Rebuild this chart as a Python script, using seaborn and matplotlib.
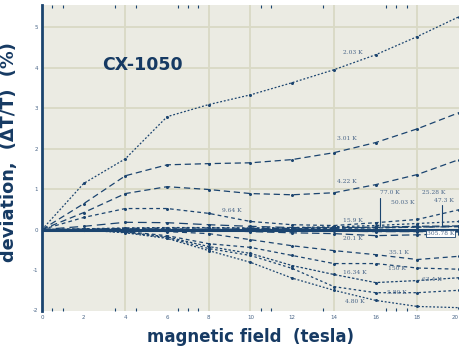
import matplotlib
matplotlib.use("Agg")
import matplotlib.pyplot as plt
import seaborn as sns
import numpy as np

# ---------------- data ----------------
field = [0, 2, 4, 6, 8, 10, 12, 14, 16, 18, 20]

curves = {
    "2.03 K":   [0, 1.14, 1.75, 2.79, 3.09, 3.33, 3.63, 3.95, 4.32, 4.77, 5.26],
    "3.01 K":   [0, 0.64, 1.33, 1.60, 1.63, 1.65, 1.73, 1.90, 2.15, 2.49, 2.89],
    "4.22 K":   [0, 0.42, 0.89, 1.06, 0.99, 0.89, 0.86, 0.91, 1.11, 1.36, 1.73],
    "9.64 K":   [0, 0.30, 0.52, 0.52, 0.40, 0.20, 0.12, 0.10, 0.17, 0.25, 0.49],
    "15.9 K":   [0, 0.08, 0.18, 0.17, 0.12, 0.08, 0.05, 0.05, 0.05, 0.06, 0.07],
    "25.28 K":  [0, 0.02, 0.04, 0.05, 0.05, 0.04, 0.05, 0.07, 0.10, 0.15, 0.20],
    "77.0 K":   [0, 0.01, 0.03, 0.04, 0.04, 0.03, 0.03, 0.05, 0.06, 0.08, 0.09],
    "50.03 K":  [0, 0.01, 0.02, 0.02, 0.01, 0.01, 0.02, 0.03, 0.04, 0.06, 0.08],
    "305.78 K": [0, 0.00, 0.00, -0.01, -0.02, -0.03, -0.03, -0.04, -0.05, -0.05, -0.06],
    "20.1 K":   [0, 0.00, 0.00, -0.01, -0.02, -0.05, -0.08, -0.10, -0.15, -0.13, -0.10],
    "35.1 K":   [0, 0.00, -0.02, -0.05, -0.10, -0.25, -0.40, -0.52, -0.62, -0.74, -0.66],
    "150 K":    [0, -0.01, -0.05, -0.15, -0.35, -0.44, -0.64, -0.84, -0.84, -0.95, -0.98],
    "63.4 K":   [0, -0.01, -0.06, -0.18, -0.42, -0.59, -0.89, -1.11, -1.31, -1.26, -1.19],
    "5.80 K":   [0, -0.01, -0.07, -0.20, -0.47, -0.64, -0.96, -1.41, -1.56, -1.56, -1.50],
    "4.80 K":   [0, -0.01, -0.08, -0.22, -0.52, -0.81, -1.20, -1.50, -1.75, -1.90, -1.93],
}

# curve labels: (text, x, y)
label_text = ["2.03 K", "3.01 K", "4.22 K", "9.64 K", "15.9 K", "77.0 K", "50.03 K",
              "25.28 K", "47.3 K", "20.1 K", "305.78 K", "35.1 K", "150 K",
              "16.34 K", "63.4 K", "5.80 K", "4.80 K"]
label_x = [14.9, 14.6, 14.6, 9.1, 14.9, 16.7, 17.3, 18.8, 19.3, 14.9, 19.1, 17.1, 17.0,
           15.0, 18.7, 17.0, 15.0]
label_y = [4.37, 2.25, 1.19, 0.47, 0.22, 0.91, 0.67, 0.91, 0.72, -0.22, -0.10, -0.57,
           -0.96, -1.06, -1.23, -1.56, -1.78]

x_ticks = [0, 2, 4, 6, 8, 10, 12, 14, 16, 18, 20]
x_ticklabels = ["0", "2", "4", "6", "8", "10", "12", "14", "16", "18", "20"]
y_ticks = [-2, -1, 0, 1, 2, 3, 4, 5]
y_ticklabels = ["-2", "-1", "0", "1", "2", "3", "4", "5"]
x_grid = [4, 8, 10, 14, 18]
y_grid = [1, 2, 3, 4, 5]
minor_x = [0.5, 1, 3.5, 4, 4.5, 6.5, 7, 7.5, 10.5, 11, 13.5, 14, 16.5, 17, 17.5]

# ---------------- style ----------------
navy = "#1b446f"
text_navy = "#163a63"
bg = "#ebebe3"
gridc = "#d9d9c5"

styles = [
    (0, (1.5, 1.5)), (0, (5, 3)), (0, (5, 3)), (0, (3, 2.5)), (0, (7, 4)),
    (0, (2, 2)), (0, (6, 2)), (0, (3, 2)), (0, (8, 3)), (0, (6, 3)),
    (0, (4, 3)), (0, (3, 2.5)), (0, (2, 1.5)), (0, (2, 2)), (0, (1.5, 1.5)),
]

sns.set_style("white")
plt.rcParams["font.family"] = ["DejaVu Sans"]

fig = plt.figure(figsize=(4.6, 3.52), dpi=100)
fig.patch.set_facecolor("white")
ax = fig.add_axes([42 / 460, (352 - 310.5) / 352, 417 / 460, 305.5 / 352])
ax.set_facecolor(bg)

for g in x_grid:
    ax.axvline(g, color=gridc, lw=1.3, zorder=0)
for g in y_grid:
    ax.axhline(g, color=gridc, lw=1.3, zorder=0)

ax.axhline(0, color=navy, lw=2.2, zorder=3)

for (name, vals), ls in zip(curves.items(), styles):
    sns.lineplot(x=field, y=vals, ax=ax, color=navy, linestyle=ls, lw=0.9,
                 marker="o", markersize=2.2, markeredgewidth=0, zorder=2)

for t, lx, ly in zip(label_text, label_x, label_y):
    kw = {}
    if t == "305.78 K":
        kw["bbox"] = dict(boxstyle="square,pad=0.15", fc="white", ec=navy, lw=0.6)
    ax.text(lx, ly, t, fontsize=4.3, color="#4a6688", family="DejaVu Serif",
            ha="center", va="center", zorder=4, clip_on=True, **kw)

# leader lines for labels near zero
ax.plot([16.2, 16.2], [0.77, 0.10], color=navy, lw=0.8, zorder=4)
ax.plot([19.2, 19.2], [0.60, 0.08], color=navy, lw=0.8, zorder=4)

ax.text(4.8, 4.07, "CX-1050", fontsize=12.5, fontweight="bold", color=text_navy,
        ha="center", va="center", family="DejaVu Sans")

ax.set_xlim(0, 20)
ax.set_ylim(-2, 5.55)
ax.set_xticks(x_ticks)
ax.set_xticklabels(x_ticklabels)
ax.set_yticks(y_ticks)
ax.set_yticklabels(y_ticklabels)
ax.tick_params(axis="both", length=0, labelsize=4, labelcolor="#4a6688", pad=3)
ax.get_xticklabels()[-1].set_horizontalalignment("right")
ax.set_xticks(minor_x, minor=True)
ax.tick_params(axis="x", which="minor", length=2.5, width=0.8, color=navy,
               direction="in", top=True, bottom=True)

for s in ["top", "right", "bottom"]:
    ax.spines[s].set_visible(False)
ax.spines["left"].set_color(navy)
ax.spines["left"].set_linewidth(2)

ax.set_xlabel("magnetic field  (tesla)", fontsize=12, fontweight="bold",
              color=text_navy, labelpad=6)
ax.set_ylabel("deviation,  (\u0394T/T)  (%)", fontsize=12.8, fontweight="bold",
              color=text_navy, labelpad=5)
ax.yaxis.set_label_coords(-0.058, 0.52)

fig.savefig("out.png", dpi=100, facecolor="white")
